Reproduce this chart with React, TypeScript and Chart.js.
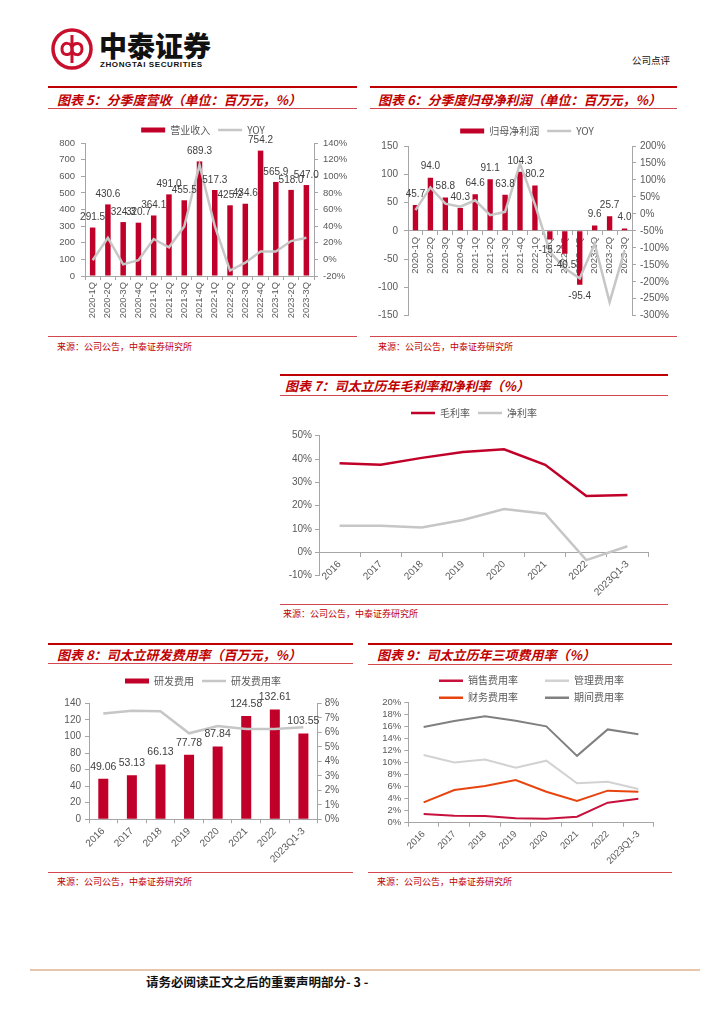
import React, { useEffect, useRef } from 'react';
import { Chart, registerables } from 'chart.js';

Chart.register(...registerables);

// ---------------- data ----------------
const quarterLabels = ['2020-1Q', '2020-2Q', '2020-3Q', '2020-4Q', '2021-1Q', '2021-2Q', '2021-3Q', '2021-4Q', '2022-1Q', '2022-2Q', '2022-3Q', '2022-4Q', '2023-1Q', '2023-2Q', '2023-3Q'];
const revenueValues = [291.5, 430.6, 324.3, 320.7, 364.1, 491.0, 455.5, 689.3, 517.3, 425.2, 434.6, 754.2, 565.9, 518.0, 547.0];
const revenueYoy = [-1, 26, -6, -1, 24.5, 14.5, 39.5, 114, 40, -13.5, -4, 9.4, 9.4, 22, 26];
const profitValues = [45.7, 94.0, 58.8, 40.3, 64.6, 91.1, 63.8, 104.3, 80.2, -15.2, -40.5, -95.4, 9.6, 25.7, 4.0];
const profitYoy = [11, 78, 30, 21, 40, -4, 6, 148, 28, -112, -160, -190, -88, -260, -108];

const yearLabels = ['2016', '2017', '2018', '2019', '2020', '2021', '2022', '2023Q1-3'];
const grossMargin = [38.2, 37.6, 40.5, 43.0, 44.2, 37.5, 24.2, 24.6];
const netMargin = [11.4, 11.4, 10.7, 13.9, 18.6, 16.6, -3.3, 2.6];

const rdExpense = [49.06, 53.13, 66.13, 77.78, 87.84, 124.58, 132.61, 103.55];
const rdRate = [7.3, 7.49, 7.45, 5.93, 6.43, 6.23, 6.22, 6.35];

const sellingRate = [1.45, 1.17, 1.1, 0.72, 0.66, 1.0, 3.32, 3.99];
const adminRate = [11.25, 10.0, 10.5, 9.14, 10.3, 6.54, 6.81, 5.6];
const financeRate = [3.38, 5.43, 6.1, 7.1, 5.15, 3.6, 5.32, 5.15];
const periodRate = [15.9, 16.9, 17.7, 16.95, 16.0, 11.1, 15.5, 14.7];

// ---------------- styles ----------------
const LAT = "'Liberation Sans', Arial, Helvetica, sans-serif";
const CJK = "'Noto Sans CJK SC', 'Noto Sans', sans-serif";
const TICK = '#595959';
const AXIS = '#A6A6A6';
const BAR_RED = '#C00028';
const LINE_GREY = '#C6C6C6';
const TITLE_RED = '#C00000';
const THIN_RED = '#D4474F';

Chart.defaults.font.family = LAT;

// ---------------- plugins ----------------
const legendFit = {
  id: 'legendFit',
  beforeLayout(chart: any, _args: any, opts: any) {
    const lg = chart.legend;
    if (!lg || lg.__patched) return;
    const extra = (opts && opts.extra) || 0;
    const rowWidth = opts && opts.rowWidth;
    const orig = lg.fit;
    lg.fit = function () {
      if (rowWidth) this.maxWidth = Math.min(this.maxWidth, rowWidth);
      orig.call(this);
      this.height += extra;
    };
    lg.__patched = true;
  },
};

const valueLabels = {
  id: 'valueLabels',
  afterDatasetsDraw(chart: any, _args: any, opts: any) {
    const ctx = chart.ctx;
    chart.data.datasets.forEach((ds: any, di: number) => {
      if (!ds.showValues) return;
      const meta = chart.getDatasetMeta(di);
      ctx.save();
      ctx.font = `${opts.size || 10}px ${LAT}`;
      ctx.fillStyle = opts.color || '#404040';
      ctx.textAlign = 'center';
      ctx.textBaseline = 'middle';
      meta.data.forEach((el: any, i: number) => {
        const v = ds.data[i];
        const y = v >= 0 ? el.y - opts.offset : el.y + opts.offset;
        ctx.fillText(v.toFixed(opts.decimals), el.x, y);
      });
      ctx.restore();
    });
  },
};

function legendOpts(padding: number, suffix = '') {
  return {
    display: true,
    position: 'top',
    align: 'center',
    labels: {
      usePointStyle: true,
      pointStyleWidth: 24,
      boxHeight: 5,
      padding,
      color: TICK,
      font: { family: CJK, size: 10 },
      sort: (a: any, b: any) => a.datasetIndex - b.datasetIndex,
      generateLabels: (chart: any) => {
        const items = Chart.defaults.plugins.legend.labels.generateLabels(chart);
        return items.map((it: any) => {
          const ds = chart.data.datasets[it.datasetIndex];
          const isLine = ds.type === 'line' || (!ds.type && chart.config.type === 'line');
          return {
            ...it,
            text: it.text + suffix,
            pointStyle: isLine ? 'line' : 'rect',
            lineWidth: isLine ? 2.5 : 0,
            strokeStyle: isLine ? ds.borderColor : ds.backgroundColor,
            fillStyle: isLine ? ds.borderColor : ds.backgroundColor,
            fontColor: TICK,
          };
        });
      },
    },
  };
}

function valueAxis(position: string, min: number, max: number, step: number, width: number, pad: number, size: number, pct: boolean) {
  return {
    position,
    min,
    max,
    ticks: {
      stepSize: step,
      autoSkip: false,
      padding: pad,
      color: TICK,
      font: { family: LAT, size },
      callback: (v: any) => (pct ? v + '%' : String(v)),
    },
    grid: { display: true, drawOnChartArea: false, drawTicks: true, tickLength: 4, color: AXIS },
    border: { display: true, color: AXIS, width: 1 },
    afterFit: (s: any) => {
      s.width = width;
    },
  };
}

function categoryAxis(rotation: number, size: number, height: number, position: any = 'bottom') {
  return {
    position,
    offset: true,
    grid: { display: true, drawOnChartArea: false, drawTicks: true, tickLength: 4, color: AXIS, offset: true },
    border: { display: true, color: AXIS, width: 1 },
    ticks: { autoSkip: false, minRotation: rotation, maxRotation: rotation, color: TICK, font: { family: LAT, size }, padding: 2 },
    afterFit: (s: any) => {
      s.height = height;
    },
  };
}

function dummyRight(width: number) {
  return {
    position: 'right',
    display: true,
    ticks: { display: false },
    grid: { display: false, drawTicks: false },
    border: { display: false },
    afterFit: (s: any) => {
      s.width = width;
    },
  };
}

// ---------------- chart configs ----------------
const revenueConfig = () => ({
  type: 'bar',
  data: {
    labels: quarterLabels,
    datasets: [
      { type: 'bar', label: '营业收入', data: revenueValues, backgroundColor: BAR_RED, yAxisID: 'y', order: 2, barPercentage: 0.36, categoryPercentage: 1, showValues: true },
      { type: 'line', label: 'YOY', data: revenueYoy, borderColor: LINE_GREY, borderWidth: 2.5, pointRadius: 0, yAxisID: 'y1', order: 1 },
    ],
  },
  options: {
    responsive: false,
    animation: false,
    layout: { padding: { top: 7, left: 0, right: 0, bottom: 0 } },
    plugins: {
      legend: legendOpts(8),
      tooltip: { enabled: false },
      legendFit: { extra: -2 },
      valueLabels: { size: 10, offset: 10, decimals: 1 },
    },
    scales: {
      x: categoryAxis(90, 9.3, 54),
      y: valueAxis('left', 0, 800, 100, 37, 6, 9.5, false),
      y1: valueAxis('right', -20, 140, 20, 44, 5, 9.5, true),
    },
  },
  plugins: [legendFit, valueLabels],
});

const profitConfig = () => ({
  type: 'bar',
  data: {
    labels: quarterLabels,
    datasets: [
      { type: 'bar', label: '归母净利润', data: profitValues, backgroundColor: BAR_RED, yAxisID: 'y', order: 2, barPercentage: 0.36, categoryPercentage: 1, showValues: true },
      { type: 'line', label: 'YOY', data: profitYoy, borderColor: LINE_GREY, borderWidth: 2.5, pointRadius: 0, yAxisID: 'y1', order: 1 },
    ],
  },
  options: {
    responsive: false,
    animation: false,
    layout: { padding: { top: 8, left: 0, right: 0, bottom: 14.3 } },
    plugins: {
      legend: legendOpts(8),
      tooltip: { enabled: false },
      legendFit: { extra: 0 },
      valueLabels: { size: 10, offset: 11, decimals: 1 },
    },
    scales: {
      x: categoryAxis(90, 9.5, 0, { y: 0 }),
      y: valueAxis('left', -150, 150, 50, 36, 6, 10, false),
      y1: valueAxis('right', -300, 200, 50, 50, 4, 10, true),
    },
  },
  plugins: [legendFit, valueLabels],
});

const marginConfig = () => ({
  type: 'line',
  data: {
    labels: yearLabels,
    datasets: [
      { label: '毛利率', data: grossMargin, borderColor: BAR_RED, backgroundColor: BAR_RED, borderWidth: 2.5, pointRadius: 0 },
      { label: '净利率', data: netMargin, borderColor: LINE_GREY, backgroundColor: LINE_GREY, borderWidth: 2.5, pointRadius: 0 },
    ],
  },
  options: {
    responsive: false,
    animation: false,
    layout: { padding: { top: 5, left: 0, right: 0, bottom: 26.3 } },
    plugins: {
      legend: legendOpts(8),
      tooltip: { enabled: false },
      legendFit: { extra: 7.7 },
    },
    scales: {
      x: categoryAxis(45, 10, 0, { y: 0 }),
      y: valueAxis('left', -10, 50, 10, 41, 3, 10, true),
      yR: dummyRight(22),
    },
  },
  plugins: [legendFit],
});

const rdConfig = () => ({
  type: 'bar',
  data: {
    labels: yearLabels,
    datasets: [
      { type: 'bar', label: '研发费用', data: rdExpense, backgroundColor: BAR_RED, yAxisID: 'y', order: 2, barPercentage: 0.35, categoryPercentage: 1, showValues: true },
      { type: 'line', label: '研发费用率', data: rdRate, borderColor: LINE_GREY, borderWidth: 2.5, pointRadius: 0, yAxisID: 'y1', order: 1 },
    ],
  },
  options: {
    responsive: false,
    animation: false,
    layout: { padding: { top: 4, left: 0, right: 0, bottom: 0 } },
    plugins: {
      legend: legendOpts(8),
      tooltip: { enabled: false },
      legendFit: { extra: 7.3 },
      valueLabels: { size: 10.5, offset: 12, decimals: 2 },
    },
    scales: {
      x: categoryAxis(45, 10, 50.7),
      y: valueAxis('left', 0, 140, 20, 41, 4, 10, false),
      y1: valueAxis('right', 0, 8, 1, 40.3, 3, 10, true),
    },
  },
  plugins: [legendFit, valueLabels],
});

const expenseConfig = () => ({
  type: 'line',
  data: {
    labels: yearLabels,
    datasets: [
      { label: '销售费用率', data: sellingRate, borderColor: '#C8103C', backgroundColor: '#C8103C', borderWidth: 2, pointRadius: 0 },
      { label: '管理费用率', data: adminRate, borderColor: '#D2D2D2', backgroundColor: '#D2D2D2', borderWidth: 2, pointRadius: 0 },
      { label: '财务费用率', data: financeRate, borderColor: '#E8440F', backgroundColor: '#E8440F', borderWidth: 2, pointRadius: 0 },
      { label: '期间费用率', data: periodRate, borderColor: '#808080', backgroundColor: '#808080', borderWidth: 2, pointRadius: 0 },
    ],
  },
  options: {
    responsive: false,
    animation: false,
    layout: { padding: { top: 4.7, left: 0, right: 0, bottom: 0 } },
    plugins: {
      legend: legendOpts(7, '\u3000\u3000'),
      tooltip: { enabled: false },
      legendFit: { extra: -10.4, rowWidth: 300 },
    },
    scales: {
      x: categoryAxis(45, 9.5, 47.3),
      y: valueAxis('left', 0, 20, 2, 36.3, 3, 9.5, true),
      yR: dummyRight(57.3),
    },
  },
  plugins: [legendFit],
});

// ---------------- components ----------------
function ChartBox({ left, top, width, height, make }: any) {
  const ref = useRef<HTMLCanvasElement>(null);
  useEffect(() => {
    const chart = new Chart(ref.current as HTMLCanvasElement, make() as any);
    return () => chart.destroy();
  }, []);
  return (
    <canvas
      ref={ref}
      width={width}
      height={height}
      style={{ position: 'absolute', left, top, width, height }}
    />
  );
}

function HLine({ x1, x2, y, h, color }: any) {
  return <div style={{ position: 'absolute', left: x1, top: y - h / 2, width: x2 - x1, height: h, background: color }} />;
}

function Txt({ x, y, size, color, weight, italic, family, children, spacing }: any) {
  const lh = Math.round(size * 1.4);
  return (
    <div
      style={{
        position: 'absolute',
        left: x,
        top: y - lh / 2,
        height: lh,
        lineHeight: `${lh}px`,
        fontSize: size,
        color: color || '#000',
        fontWeight: weight || 400,
        fontStyle: italic ? 'italic' : 'normal',
        fontFamily: family || CJK,
        whiteSpace: 'nowrap',
        letterSpacing: spacing || 0,
      }}
    >
      {children}
    </div>
  );
}

function Panel({ x1, x2, topY, titleX, titleY, thinY, title, srcLineY, srcX, srcY }: any) {
  return (
    <>
      <HLine x1={x1} x2={x2} y={topY} h={2} color={TITLE_RED} />
      <Txt x={titleX} y={titleY} size={13} color={TITLE_RED} weight={700} italic>
        {title}
      </Txt>
      <HLine x1={x1} x2={x2} y={thinY} h={1} color={THIN_RED} />
      <HLine x1={x1} x2={x2} y={srcLineY} h={1} color={THIN_RED} />
      <Txt x={srcX} y={srcY} size={9} color={TITLE_RED}>
        来源：公司公告，中泰证券研究所
      </Txt>
    </>
  );
}

function Logo() {
  return (
    <svg style={{ position: 'absolute', left: 50, top: 27 }} width={44} height={44} viewBox="0 0 44 44">
      <circle cx={22} cy={22} r={19} fill="none" stroke="#C8102E" strokeWidth={3.5} />
      <line x1={22} y1={8} x2={22} y2={36} stroke="#C8102E" strokeWidth={3} />
      <path d="M22 22 C 22 15, 12 14, 12 22 C 12 29, 20 29, 22 24" fill="none" stroke="#C8102E" strokeWidth={3} />
      <path d="M22 22 C 22 29, 32 30, 32 22 C 32 15, 24 15, 22 20" fill="none" stroke="#C8102E" strokeWidth={3} />
    </svg>
  );
}

export default function App() {
  return (
    <div style={{ position: 'fixed', left: 0, top: 0, width: 724, height: 1024, background: '#fff', overflow: 'hidden' }}>
      {/* header */}
      <Logo />
      <Txt x={99} y={45} size={28} weight={900} color="#111">中泰证券</Txt>
      <Txt x={100} y={64} size={8} weight={700} color="#111" family={LAT} spacing={0.6}>ZHONGTAI SECURITIES</Txt>
      <Txt x={632} y={60} size={9.5} color="#111">公司点评</Txt>

      {/* chart 5 */}
      <Panel x1={48} x2={357} topY={87} titleX={57} titleY={100} thinY={108} title="图表 5：分季度营收（单位：百万元，%）" srcLineY={336} srcX={57} srcY={346} />
      <ChartBox left={48} top={110} width={310} height={220} make={revenueConfig} />

      {/* chart 6 */}
      <Panel x1={370} x2={677} topY={87} titleX={378} titleY={100} thinY={108} title="图表 6：分季度归母净利润（单位：百万元，%）" srcLineY={336} srcX={378} srcY={346} />
      <ChartBox left={372} top={110} width={310} height={220} make={profitConfig} />

      {/* chart 7 */}
      <Panel x1={280} x2={668} topY={375} titleX={285} titleY={386} thinY={395} title="图表 7：司太立历年毛利率和净利率（%）" srcLineY={604} srcX={283} srcY={613} />
      <ChartBox left={278} top={395} width={392} height={207} make={marginConfig} />

      {/* chart 8 */}
      <Panel x1={48} x2={353} topY={644} titleX={57} titleY={655} thinY={663} title="图表 8：司太立研发费用率（百万元，%）" srcLineY={872} srcX={57} srcY={881} />
      <ChartBox left={48} top={664} width={310} height={206} make={rdConfig} />

      {/* chart 9 */}
      <Panel x1={368} x2={672} topY={644} titleX={377} titleY={655} thinY={664} title="图表 9：司太立历年三项费用率（%）" srcLineY={872} srcX={377} srcY={881} />
      <ChartBox left={372} top={664} width={339} height={206} make={expenseConfig} />

      {/* footer */}
      <HLine x1={30} x2={700} y={970} h={2} color="#E8C6AC" />
      <Txt x={146} y={982} size={12.5} weight={700} color="#111">请务必阅读正文之后的重要声明部分- 3 -</Txt>
    </div>
  );
}
